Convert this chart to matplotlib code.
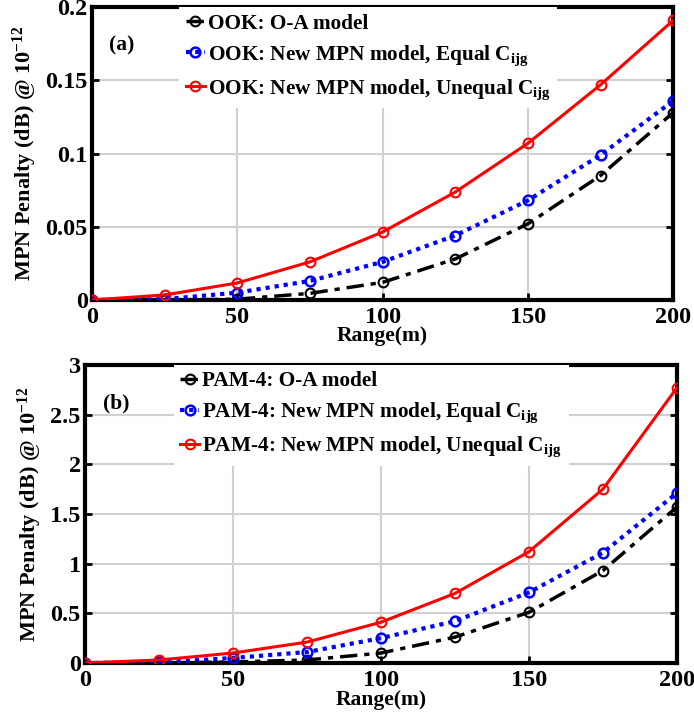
import matplotlib
matplotlib.use("Agg")
import matplotlib.pyplot as plt

plt.rcParams['font.family'] = ['Liberation Serif', 'DejaVu Serif']
plt.rcParams['font.weight'] = 'bold'
plt.rcParams['mathtext.fontset'] = 'custom'
plt.rcParams['mathtext.rm'] = 'Liberation Serif:bold'
plt.rcParams['mathtext.bf'] = 'Liberation Serif:bold'
plt.rcParams['mathtext.it'] = 'Liberation Serif:bold'

range_m = [0, 25, 50, 75, 100, 125, 150, 175, 200]

ook_oa = [0, 0.0, 0.0005, 0.0045, 0.012, 0.028, 0.052, 0.085, 0.128]
ook_equal = [0, 0.0005, 0.005, 0.013, 0.026, 0.044, 0.068, 0.099, 0.136]
ook_unequal = [0, 0.0034, 0.0116, 0.026, 0.0464, 0.0737, 0.107, 0.147, 0.191]

pam_oa = [0, 0.0, 0.01, 0.03, 0.10, 0.26, 0.51, 0.93, 1.57]
pam_equal = [0, 0.005, 0.05, 0.11, 0.25, 0.42, 0.71, 1.11, 1.71]
pam_unequal = [0, 0.03, 0.10, 0.21, 0.41, 0.70, 1.12, 1.75, 2.77]

xticks = [0, 50, 100, 150, 200]
yticks_a = [0, 0.05, 0.1, 0.15, 0.2]
yticklabels_a = ['0', '0.05', '0.1', '0.15', '0.2']
yticks_b = [0, 0.5, 1, 1.5, 2, 2.5, 3]
yticklabels_b = ['0', '0.5', '1', '1.5', '2', '2.5', '3']

fig = plt.figure(figsize=(6.94, 7.21), dpi=100)
ax_a = fig.add_axes([0.1326, 0.584, 0.8374, 0.406])
ax_b = fig.add_axes([0.1225, 0.0805, 0.853, 0.4135])


def style(ax, series, labels, yticks, yticklabels, ymax, tag):
    oa, eq, uq = series
    ax.plot(range_m, oa, color='black', ls=(0, (5, 2, 1.5, 2)), lw=2.5,
            marker='o', ms=7, mfc='none', mew=1.5, label=labels[0], zorder=3)
    ax.plot(range_m, eq, color='#0000ff', ls=(0, (1, 1.2)), lw=3,
            marker='o', ms=7, mfc='none', mew=1.8, label=labels[1], zorder=3)
    ax.plot(range_m, uq, color='#ff0000', ls='-', lw=2.2,
            marker='o', ms=7, mfc='none', mew=1.5, label=labels[2], zorder=3)
    ax.set_xlim(0, 200)
    ax.set_ylim(0, ymax)
    ax.set_xticks(xticks)
    ax.set_xticklabels([str(v) for v in xticks])
    ax.set_yticks(yticks)
    ax.set_yticklabels(yticklabels)
    ax.grid(True, color='#d0d0d0', lw=1.5, zorder=0)
    ax.set_axisbelow(True)
    ax.tick_params(direction='in', length=5, width=2, labelsize=17.5,
                   top=True, right=True)
    ax.tick_params(axis='x', pad=5)
    ax.tick_params(axis='y', pad=3)
    for lab in ax.get_xticklabels() + ax.get_yticklabels():
        lab.set_fontweight('bold')
    for s in ax.spines.values():
        s.set_linewidth(3)
    ax.set_xlabel('Range(m)', fontsize=15.5, fontweight='bold', labelpad=-1)
    ax.set_ylabel(r'MPN Penalty (dB) @ 10$^{-12}$', fontsize=16,
                  fontweight='bold', labelpad=5)
    leg = ax.legend(loc='upper left', bbox_to_anchor=(0.15, 1.0),
                    frameon=True, fancybox=False, handlelength=0.9,
                    handletextpad=0.15, borderaxespad=0.0, labelspacing=0.45,
                    borderpad=0.3,
                    prop={'weight': 'bold', 'size': 15.3})
    leg.get_frame().set_edgecolor('none')
    leg.get_frame().set_facecolor('white')
    leg.get_frame().set_alpha(1)
    leg.set_zorder(2.5)
    ax.text(0.03, 0.87, tag, transform=ax.transAxes, fontsize=15.5,
            fontweight='bold', va='center')


style(ax_a, (ook_oa, ook_equal, ook_unequal),
      ['OOK: O-A model',
       r'OOK: New MPN model, Equal C$_{\mathregular{ijg}}$',
       r'OOK: New MPN model, Unequal C$_{\mathregular{ijg}}$'],
      yticks_a, yticklabels_a, 0.2, '(a)')
style(ax_b, (pam_oa, pam_equal, pam_unequal),
      ['PAM-4: O-A model',
       r'PAM-4: New MPN model, Equal C$_{\mathregular{ijg}}$',
       r'PAM-4: New MPN model, Unequal C$_{\mathregular{ijg}}$'],
      yticks_b, yticklabels_b, 3, '(b)')

fig.savefig('out.png', dpi=100)
